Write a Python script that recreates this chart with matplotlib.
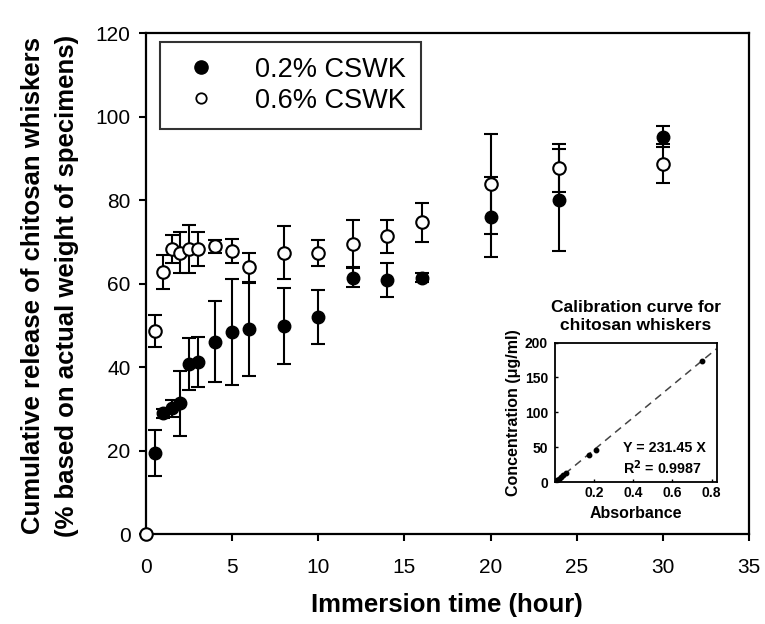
import numpy as np
import matplotlib
matplotlib.use('Agg')
import matplotlib.pyplot as plt
from matplotlib.lines import Line2D

plt.rcParams['font.family'] = ['Liberation Sans', 'DejaVu Sans']

# release data
time_low = [0.5, 1, 1.5, 2, 2.5, 3, 4, 5, 6, 8, 10, 12, 14, 16, 20, 24, 30]
release_low = [19.5, 28.9, 30.1, 31.3, 40.7, 41.1, 46.0, 48.3, 49.0, 49.9,
               52.0, 61.4, 60.9, 61.4, 75.9, 79.9, 95.2]
err_low = [5.5, 1.0, 2.1, 7.8, 6.2, 6.0, 9.7, 12.7, 11.1, 9.1, 6.4, 2.2,
           4.1, 1.0, 9.5, 12.2, 2.6]

time_high = [0, 0.5, 1, 1.5, 2, 2.5, 3, 4, 5, 6, 8, 10, 12, 14, 16, 20, 24, 30]
release_high = [0, 48.6, 62.8, 68.3, 67.4, 68.3, 68.3, 68.9, 67.8, 63.9,
                67.4, 67.4, 69.5, 71.3, 74.7, 83.9, 87.6, 88.7]
err_high = [0, 3.9, 4.1, 3.3, 5.0, 5.7, 4.1, 1.6, 2.8, 3.5, 6.3, 3.1, 5.6,
            3.9, 4.7, 12.0, 5.7, 4.6]

labels = ['0.2% CSWK', '0.6% CSWK']

# calibration inset
absorbance = [0.011, 0.022, 0.032, 0.043, 0.055, 0.174, 0.211, 0.753]
concentration = [2.5, 5, 7.5, 10, 12.5, 38.3, 45.5, 173]
fit_slope = 231.45
fit_range = [0, 0.825]

fig = plt.figure(figsize=(7.65, 6.24), dpi=100)
ax = fig.add_axes([0.1908, 0.1442, 0.7882, 0.8029])

ekw = dict(ecolor='black', elinewidth=1.5, capsize=5, capthick=1.5,
           markersize=9, clip_on=False, zorder=3)
ax.errorbar(time_low, release_low, yerr=err_low, fmt='o', mfc='black',
            mec='black', **ekw)
ax.errorbar(time_high, release_high, yerr=err_high, fmt='o', mfc='white',
            mec='black', mew=1.5, **ekw)

ax.set_xlim(0, 35)
ax.set_ylim(0, 120)
ax.set_xticks(range(0, 36, 5))
ax.set_yticks(range(0, 121, 20))
ax.tick_params(direction='out', length=5, width=1.5, labelsize=15)
ax.tick_params(axis='x', pad=12)
ax.tick_params(axis='y', pad=6)
for s in ax.spines.values():
    s.set_linewidth(1.6)

handles = [Line2D([], [], ls='none', marker='o', ms=9.5, mfc='black', mec='black'),
           Line2D([], [], ls='none', marker='o', ms=7.5, mfc='white',
                  mec='black', mew=1.3)]
leg = ax.legend(handles, labels, loc='upper left',
                bbox_to_anchor=(0.0232, 0.982), borderaxespad=0,
                fontsize=19.5, frameon=True, fancybox=False, edgecolor='black',
                borderpad=0.55, handlelength=1.9, handletextpad=1.05,
                labelspacing=0.18)
leg.get_frame().set_linewidth(1.5)

fig.text(446.7 / 765, 1 - 605 / 624, 'Immersion time (hour)', ha='center',
         va='center', fontsize=18.5, fontweight='bold')
fig.text(50 / 765, 1 - 286 / 624,
         'Cumulative release of chitosan whiskers\n'
         '(% based on actual weight of specimens)',
         ha='center', va='center', rotation=90, fontsize=18.5,
         fontweight='bold', linespacing=1.55, multialignment='center')

# inset calibration plot
ins = fig.add_axes([555 / 765, 1 - 482 / 624, 161.5 / 765, 139.5 / 624])
ins.plot(fit_range, [fit_slope * v for v in fit_range], ls=(0, (5, 3.5)),
         color='#444444', lw=1.1)
ins.plot(absorbance, concentration, 'o', color='black', ms=3.2)
ins.set_xlim(fit_range)
ins.set_ylim(0, 200)
ins.set_xticks([0.2, 0.4, 0.6, 0.8])
ins.set_xticklabels(['0.2', '0.4', '0.6', '0.8'])
ins.set_yticks([0, 50, 100, 150, 200])
ins.tick_params(direction='in', length=2, width=1, labelsize=10, pad=3)
ins.tick_params(axis='y', pad=5)
for t in ins.get_xticklabels() + ins.get_yticklabels():
    t.set_fontweight('bold')
for s in ins.spines.values():
    s.set_linewidth(1.3)
ins.set_xlabel('Absorbance', fontsize=11.5, fontweight='bold', labelpad=4)
ins.set_ylabel('Concentration (\u03bcg/ml)', fontsize=11.5, fontweight='bold',
               labelpad=3)
ins.set_title('Calibration curve for\nchitosan whiskers', fontsize=12.5,
              fontweight='bold', pad=9, linespacing=1.25)
ins.text(0.42, 0.246, 'Y = 231.45 X', transform=ins.transAxes, ha='left',
         va='center', fontsize=10.3, fontweight='bold')
ins.text(0.42, 0.105, 'R$^\\mathbf{2}$ = 0.9987', transform=ins.transAxes,
         ha='left', va='center', fontsize=10.3, fontweight='bold')

fig.savefig('out.png', dpi=100)
